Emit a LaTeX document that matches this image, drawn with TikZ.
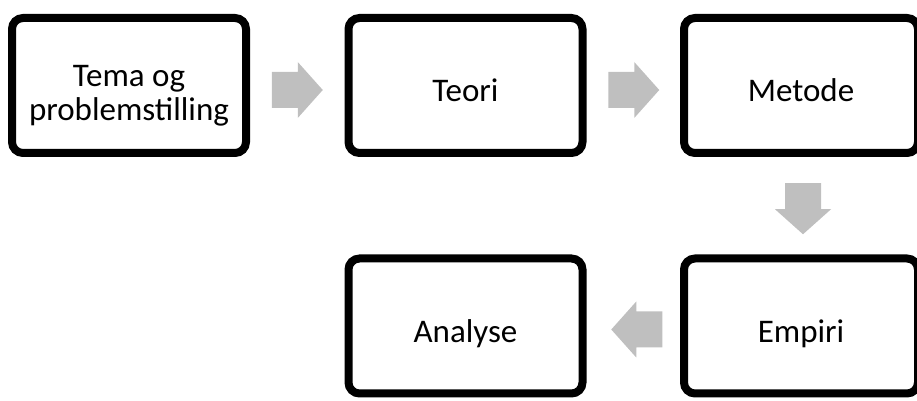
\documentclass[tikz,border=0pt]{standalone}
\usepackage{fontspec}
\setmainfont{Carlito}
\usetikzlibrary{calc,shadows}
\definecolor{arrowgray}{RGB}{191,191,191}
\begin{document}
\begin{tikzpicture}[x=1pt,y=1pt,
  stepbox/.style={draw=black, line width=8pt, rounded corners=11pt, fill=white,
    minimum width=234pt, minimum height=135pt, inner sep=0pt,
    drop shadow={opacity=0.22, shadow xshift=2pt, shadow yshift=-3pt}},
  lbl/.style={font=\fontsize{33}{34.5}\selectfont, inner sep=0pt, align=center},
  blockarrow/.pic={\fill[arrowgray] (-25.5,-18) -- (0.5,-18) -- (0.5,-28) -- (25.5,0) -- (0.5,28) -- (0.5,18) -- (-25.5,18) -- cycle;}
]
\useasboundingbox (0,0) rectangle (917,401);
\node[stepbox] (b1) at (129,315.5) {};
\node[stepbox] (b2) at (465.5,315.5) {};
\node[stepbox] (b3) at (801,315.5) {};
\node[stepbox] (b4) at (465.5,75) {};
\node[stepbox] (b5) at (801,75) {};

\node[lbl] (t1) at ([yshift=-10.5pt]b1.center) {Tema og\\problemstilling};
\node[lbl, anchor=base] (t2) at ([yshift=-16.2pt]b2.center) {Teori};
\node[lbl, anchor=base] (t3) at ([yshift=-16.2pt]b3.center) {Metode};
\node[lbl, anchor=base] (t4) at ([yshift=-16.2pt]b4.center) {Analyse};
\node[lbl, anchor=base] (t5) at ([yshift=-16.2pt]b5.center) {Empiri};

\coordinate (m12) at ($(b1.east)!0.5!(b2.west)+(0,-4.5)$);
\coordinate (m23) at ($(b2.east)!0.5!(b3.west)+(0.5,-4.5)$);
\coordinate (m35) at ($(b3.south)!0.5!(b5.north)+(2,-3)$);
\coordinate (m54) at ($(b4.east)!0.5!(b5.west)+(3.5,-3.5)$);

\pic at (m12) {blockarrow};
\pic at (m23) {blockarrow};
\pic[rotate=-90] at (m35) {blockarrow};
\pic[rotate=180] at (m54) {blockarrow};
\end{tikzpicture}
\end{document}
